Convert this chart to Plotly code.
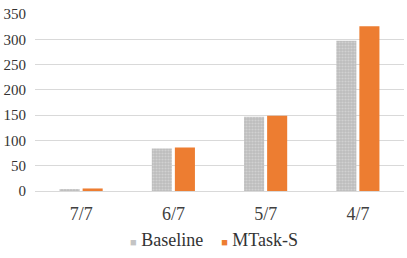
import plotly.graph_objects as go

categories = ["7/7", "6/7", "5/7", "4/7"]
baseline = [4, 84, 147, 297]
mtask = [5, 86, 149, 326]
y_ticks = [0, 50, 100, 150, 200, 250, 300, 350]
series_names = ["Baseline", "MTask-S"]
series_colors = ["#c4c4c4", "#ED7D31"]

SERIF = "Liberation Serif"

fig = go.Figure()
fig.add_trace(go.Bar(
    x=categories, y=baseline, name=series_names[0],
    marker=dict(color=series_colors[0], line=dict(width=0),
                pattern=dict(shape=".", fgcolor="#e6e6e6", bgcolor="#bdbdbd", size=3, solidity=0.4)),
))
fig.add_trace(go.Bar(
    x=categories, y=mtask, name=series_names[1],
    marker=dict(color=series_colors[1], line=dict(width=0)),
))

legend_text = (
    f"<span style='font-size:11px;color:{series_colors[0]}'>■</span> {series_names[0]}"
    "&nbsp;&nbsp;&nbsp;&nbsp;"
    f"<span style='font-size:11px;color:{series_colors[1]}'>■</span> {series_names[1]}"
)

fig.update_layout(
    width=407, height=258,
    margin=dict(l=35, r=3, t=14, b=67),
    paper_bgcolor="white", plot_bgcolor="white",
    barmode="group", bargap=0.5, bargroupgap=0.13,
    font=dict(family=SERIF, color="#333333"),
    showlegend=False,
    xaxis=dict(showgrid=False, showline=False, ticks="", ticklabelstandoff=10,
               tickfont=dict(size=18, color="#404040", family=SERIF)),
    yaxis=dict(range=[0, 350], tickvals=y_ticks, showgrid=True, gridcolor="#d9d9d9", gridwidth=1,
               zeroline=True, zerolinecolor="#d9d9d9", zerolinewidth=1,
               showline=False, ticks="", ticklabelstandoff=8,
               tickfont=dict(size=15, color="#333333", family=SERIF)),
    annotations=[dict(text=legend_text, xref="paper", yref="paper", x=0.484, y=-0.277,
                      xanchor="center", yanchor="middle", showarrow=False,
                      font=dict(size=18, color="#333333", family=SERIF))],
)

fig.write_html("out.html")
